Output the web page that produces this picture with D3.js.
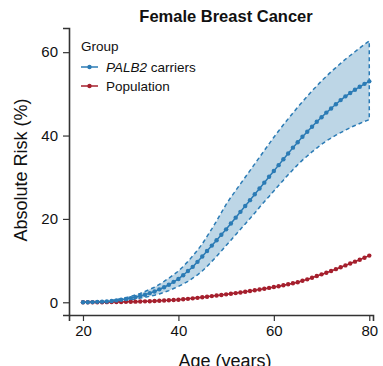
<!DOCTYPE html>
<html>
<head>
<meta charset="utf-8">
<script src="https://cdn.jsdelivr.net/npm/d3@7"></script>
<style>
  body { margin: 0; background: #fff; }
  svg { font-family: "Liberation Sans", Arial, sans-serif; }
</style>
</head>
<body>
<svg id="chart" width="383" height="366"></svg>
<script>
// ages 20..80, one point per year
var ages = d3.range(20, 81);

var carrierRisk = [0.0, 0.0, 0.05, 0.1, 0.15, 0.2, 0.3, 0.45, 0.6, 0.8,
  1.0, 1.25, 1.5, 1.8, 2.2, 2.6, 3.1, 3.6, 4.2, 4.9,
  5.6, 6.5, 7.5, 8.5, 9.7, 11.0, 12.3, 13.6, 14.9, 16.2,
  17.5, 18.9, 20.3, 21.7, 23.1, 24.5, 25.9, 27.3, 28.7, 30.1,
  31.5, 32.9, 34.3, 35.7, 37.1, 38.4, 39.7, 40.9, 42.1, 43.3,
  44.4, 45.5, 46.5, 47.5, 48.5, 49.4, 50.2, 51.0, 51.7, 52.4, 53.0];

var carrierUpper = [0, 0, 0.1, 0.15, 0.2, 0.3, 0.45, 0.65, 0.85, 1.1,
  1.4, 1.75, 2.1, 2.6, 3.1, 3.6, 4.3, 5.0, 5.8, 6.6,
  7.5, 8.6, 9.8, 11.1, 12.5, 14.0, 15.8, 17.6, 19.5, 21.5,
  23.5, 25.2, 26.8, 28.4, 30.0, 31.6, 33.2, 34.8, 36.4, 38.0,
  39.6, 41.1, 42.6, 44.0, 45.4, 46.8, 48.1, 49.4, 50.7, 51.9,
  53.1, 54.2, 55.3, 56.3, 57.3, 58.3, 59.2, 60.1, 61.0, 61.9, 62.7];

var carrierLower = [0, 0, 0.02, 0.05, 0.08, 0.1, 0.15, 0.25, 0.35, 0.5,
  0.6, 0.8, 1.0, 1.2, 1.45, 1.7, 2.0, 2.4, 2.8, 3.3,
  3.8, 4.4, 5.0, 5.8, 6.6, 7.5, 8.6, 9.8, 11.0, 12.3,
  13.6, 14.9, 16.2, 17.5, 18.8, 20.1, 21.4, 22.8, 24.1, 25.4,
  26.7, 28.0, 29.3, 30.6, 31.8, 33.0, 34.1, 35.1, 36.1, 37.0,
  37.9, 38.7, 39.4, 40.1, 40.7, 41.3, 41.9, 42.4, 42.9, 43.4, 43.8];

var populationRisk = [0, 0, 0, 0.01, 0.02, 0.03, 0.04, 0.06, 0.08, 0.1,
  0.12, 0.15, 0.18, 0.22, 0.26, 0.3, 0.36, 0.42, 0.48, 0.55,
  0.62, 0.72, 0.83, 0.95, 1.07, 1.2, 1.34, 1.48, 1.62, 1.76,
  1.9, 2.05, 2.2, 2.36, 2.53, 2.7, 2.88, 3.06, 3.25, 3.45,
  3.65, 3.86, 4.08, 4.31, 4.55, 4.8, 5.15, 5.5, 5.9, 6.3,
  6.7, 7.1, 7.5, 7.95, 8.4, 8.85, 9.3, 9.75, 10.2, 10.7, 11.2];

var xTicks = [20, 40, 60, 80];
var yTicks = [0, 20, 40, 60];
var groupNames = ["PALB2", "Population"];

var blue = "#2b7bb5", red = "#a51f2d", bandFill = "#bdd6e6", axisCol = "#333";

var svg = d3.select("#chart");

var x = d3.scaleLinear().domain([17.07, 80.78]).range([69, 373]);
var y = d3.scaleLinear().domain([-3.05, 65.8]).range([315, 28]);

// axes
var xAxis = d3.axisBottom(x).tickValues(xTicks).tickSizeOuter(0).tickSize(6).tickPadding(4);
var yAxis = d3.axisLeft(y).tickValues(yTicks).tickSizeOuter(0).tickSize(6).tickPadding(5);

var gx = svg.append("g").attr("transform", "translate(0,315)").call(xAxis);
var gy = svg.append("g").attr("transform", "translate(69,0)").call(yAxis);
[gx, gy].forEach(function(g) {
  g.select(".domain").attr("stroke", axisCol).attr("stroke-width", 1.6);
  g.selectAll(".tick line").attr("stroke", axisCol).attr("stroke-width", 1.2);
  g.selectAll(".tick text").attr("fill", "#111").style("font-size", "15px")
    .style("font-family", "Liberation Sans, Arial, sans-serif");
});

// CI band
var pts = ages.map(function(a, i) { return {age: a, mid: carrierRisk[i], lo: carrierLower[i], hi: carrierUpper[i], pop: populationRisk[i]}; });

var band = d3.area()
  .x(d => x(d.age))
  .y0(d => y(d.lo))
  .y1(d => y(d.hi));

svg.append("path")
  .datum(pts)
  .attr("d", band)
  .attr("fill", bandFill)
  .attr("stroke", "none");

// dashed outline of the band (upper, right edge, lower)
var outline = pts.map(d => [x(d.age), y(d.hi)])
  .concat(pts.slice().reverse().map(d => [x(d.age), y(d.lo)]));
svg.append("path")
  .attr("d", d3.line()(outline))
  .attr("fill", "none")
  .attr("stroke", blue)
  .attr("stroke-width", 1.5)
  .attr("stroke-dasharray", "4,3");

function series(key, col) {
  var g = svg.append("g");
  g.append("path")
    .datum(pts)
    .attr("d", d3.line().x(d => x(d.age)).y(d => y(d[key])))
    .attr("fill", "none")
    .attr("stroke", col)
    .attr("stroke-width", 1.5);
  g.selectAll("circle")
    .data(pts)
    .enter()
    .append("circle")
    .attr("cx", d => x(d.age))
    .attr("cy", d => y(d[key]))
    .attr("r", 2.2)
    .attr("fill", col);
}
series("pop", red);
series("mid", blue);

// title & axis labels
svg.append("text")
  .attr("x", 226).attr("y", 22)
  .attr("text-anchor", "middle")
  .style("font-size", "16.5px").style("font-weight", "bold")
  .attr("fill", "#111")
  .text("Female Breast Cancer");

svg.append("text")
  .attr("x", 225).attr("y", 367)
  .attr("text-anchor", "middle")
  .style("font-size", "18px")
  .attr("fill", "#111")
  .text("Age (years)");

svg.append("text")
  .attr("transform", "translate(27,170) rotate(-90)")
  .attr("text-anchor", "middle")
  .style("font-size", "18px")
  .attr("fill", "#111")
  .text("Absolute Risk (%)");

// legend
var legend = svg.append("g");
legend.append("text").attr("x", 81).attr("y", 51)
  .style("font-size", "13.5px").attr("fill", "#111").text("Group");

var legendCols = [blue, red];
legendCols.forEach(function(col, i) {
  var ly = 67 + i * 19;
  legend.append("line").attr("x1", 81).attr("x2", 98).attr("y1", ly).attr("y2", ly)
    .attr("stroke", col).attr("stroke-width", 1.5);
  legend.append("circle").attr("cx", 89.5).attr("cy", ly).attr("r", 2.2).attr("fill", col);
  var t = legend.append("text").attr("x", 106).attr("y", ly + 4.5)
    .style("font-size", "13.5px").attr("fill", "#111");
  if (i === 0) {
    t.append("tspan").style("font-style", "italic").text(groupNames[0]);
    t.append("tspan").text(" carriers");
  } else {
    t.text(groupNames[1]);
  }
});
</script>
</body>
</html>
